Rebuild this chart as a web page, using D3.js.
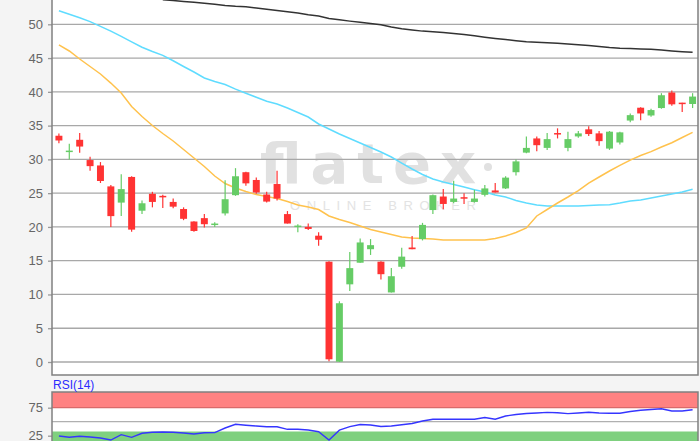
<!DOCTYPE html>
<html>
<head>
<meta charset="utf-8">
<script src="https://cdn.jsdelivr.net/npm/d3@7"></script>
<style>
  body { margin: 0; background: #f4f4f4; }
  svg { display: block; font-family: "Liberation Sans", Arial, sans-serif; }
  .axis text { fill: #666; font-size: 13px; }
  .axis line { stroke: #999; }
  .axis path { display: none; }
</style>
</head>
<body>
<script>
// candle data (one per trading day)
var days = d3.range(1, 63);
var opens  = [33.5, 31.1, 32.9, 29.9, 29.1, 26.0, 23.6, 27.4, 22.4, 24.9, 24.6, 23.7, 22.65, 20.8, 21.3, 20.35,
              22.0, 24.7, 28.1, 26.95, 24.8, 26.35, 21.9, 20.1, 20.0, 18.7, 14.85, 0.05, 11.5, 14.7, 16.7,
              14.85, 10.3, 14.1, 16.95, 18.2, 22.5, 24.5, 23.7, 24.4, 23.7, 24.75, 25.4, 25.7, 28.1, 31.0,
              33.1, 31.7, 33.9, 31.7, 33.4, 34.45, 33.85, 31.6, 32.5, 35.75, 37.65, 36.5, 37.6, 39.9, 38.4, 38.2];
var highs  = [33.85, 32.3, 33.9, 30.4, 29.6, 26.2, 27.8, 27.5, 23.9, 25.2, 24.75, 24.2, 22.9, 20.85, 21.9, 20.7,
              26.9, 28.7, 28.15, 27.3, 25.2, 28.3, 22.35, 20.4, 20.5, 19.2, 14.9, 9.0, 16.3, 18.3, 18.2,
              14.9, 13.9, 16.9, 18.65, 20.6, 24.8, 25.6, 26.85, 25.0, 25.5, 26.2, 26.5, 27.5, 30.0, 33.4,
              33.4, 33.9, 34.6, 34.1, 34.2, 34.9, 34.2, 34.2, 34.1, 36.8, 37.7, 37.5, 39.8, 40.2, 38.4, 39.8];
var lows   = [32.4, 30.0, 31.0, 28.3, 26.5, 20.0, 21.6, 19.3, 21.9, 22.9, 22.8, 22.75, 21.0, 19.3, 19.9, 20.0,
              21.7, 24.6, 26.1, 24.9, 23.6, 23.9, 20.5, 19.2, 19.55, 17.2, 0.1, 0.0, 10.5, 14.7, 15.85,
              12.2, 10.3, 13.8, 16.7, 18.0, 21.9, 22.6, 23.5, 23.4, 23.6, 24.5, 25.1, 25.6, 27.6, 30.9,
              31.2, 31.4, 33.1, 31.2, 33.2, 33.45, 32.0, 31.4, 32.2, 35.5, 35.8, 36.3, 37.5, 37.95, 37.0, 37.6];
var closes = [32.8, 31.3, 31.9, 29.0, 26.8, 21.6, 25.6, 19.6, 23.5, 23.7, 24.4, 23.0, 21.2, 19.4, 20.4, 20.5,
              24.1, 27.5, 26.45, 25.1, 23.75, 24.2, 20.5, 20.2, 19.7, 18.1, 0.4, 8.7, 13.9, 17.7, 17.3,
              13.0, 12.7, 15.6, 16.7, 20.3, 24.7, 23.4, 24.2, 24.3, 24.2, 25.7, 25.1, 27.3, 29.7, 31.7,
              32.1, 33.0, 33.8, 33.0, 33.85, 33.75, 32.7, 34.1, 34.0, 36.55, 36.8, 37.3, 39.5, 38.15, 38.2, 39.3];

// moving averages (null = not drawn)
var maLong = [null, null, null, null, null, null, null, null, null, null,
              53.65, 53.52, 53.39, 53.26, 53.13, 52.96, 52.8, 52.68, 52.61, 52.42, 52.24, 52.06, 51.87, 51.68,
              51.42, 51.23, 50.86, 50.67, 50.47, 50.3, 50.12, 49.94, 49.6, 49.33, 49.16, 48.99, 48.9, 48.77,
              48.62, 48.49, 48.3, 48.09, 47.91, 47.75, 47.57, 47.42, 47.35, 47.28, 47.2, 47.07, 46.97, 46.86,
              46.71, 46.56, 46.45, 46.4, 46.36, 46.3, 46.18, 46.05, 45.95, 45.86];
var maMid  = [52.0, 51.5, 50.96, 50.4, 49.7, 49.0, 48.2, 47.4, 46.6, 45.97, 45.4, 44.6, 43.75, 42.94, 42.05,
              41.53, 41.09, 40.4, 39.8, 39.2, 38.6, 38.2, 37.6, 36.94, 36.27, 35.24, 34.5, 33.76, 33.09, 32.43,
              31.76, 31.1, 30.35, 29.46, 28.58, 27.76, 27.1, 26.65, 26.28, 25.9, 25.5, 25.17, 24.73, 24.43,
              23.9, 23.54, 23.25, 23.1, 23.1, 23.1, 23.1, 23.17, 23.25, 23.3, 23.54, 23.84, 24.0, 24.28,
              24.58, 24.87, 25.17, 25.57];
var maShort = [46.94, 46.05, 44.86, 43.75, 42.64, 41.3, 39.83, 37.83, 36.35, 35.02, 33.83, 32.72, 31.46, 30.2,
               28.95, 27.54, 26.43, 25.76, 25.24, 24.8, 24.5, 24.2, 23.76, 23.25, 22.95, 22.58, 21.62, 21.1,
               20.65, 20.14, 19.62, 19.25, 18.88, 18.5, 18.36, 18.3, 18.2, 18.06, 18.06, 18.06, 18.06, 18.06,
               18.29, 18.66, 19.17, 19.84, 21.62, 22.58, 23.54, 24.43, 25.39, 26.5, 27.39, 28.28, 29.1, 29.9,
               30.57, 31.14, 31.83, 32.47, 33.24, 34.0];

// RSI(14)
var rsi = [24.5, 22.3, 23.9, 22.7, 20.9, 17.3, 26.8, 22.1, 29.3, 31.25, 31.6, 31.1, 29.8, 28.0, 30.2, 30.4,
           38.75, 45.4, 43.75, 42.3, 41.1, 40.9, 36.4, 36.4, 35.2, 32.1, 17.3, 34.8, 41.1, 45.0, 44.1,
           41.4, 42.3, 44.5, 46.8, 51.25, 54.3, 54.3, 54.3, 54.3, 54.3, 57.5, 54.5, 60.2, 62.9, 64.6,
           65.5, 66.6, 65.9, 64.5, 65.5, 66.8, 65.5, 65.0, 65.0, 68.2, 70.5, 71.8, 73.2, 69.1, 69.1, 71.4];

var priceTicks = [0, 5, 10, 15, 20, 25, 30, 35, 40, 45, 50];
var rsiTicks = [25, 75];

var W = 700, H = 441;
var left = 52, right = 698;
var mainTop = -10, mainBottom = 375;
var rsiTop = 392, rsiBottom = 470;

var svg = d3.select("body").append("svg")
    .attr("width", W)
    .attr("height", H);

svg.append("rect").attr("width", W).attr("height", H).attr("fill", "#f4f4f4");

// scales
var x = d3.scaleBand().domain(days).range([left, right + 1.5]).padding(0.33);
var y = d3.scaleLinear().domain([0, 50]).range([362, 24.3]);
var yr = d3.scaleLinear().domain([0, 100]).range([449.7, 393.7]);

function cx(d) { return x(d) + x.bandwidth() / 2; }

// ---------- main panel ----------
svg.append("rect")
    .attr("x", left).attr("y", mainTop)
    .attr("width", right - left).attr("height", mainBottom - mainTop)
    .attr("fill", "#fff");

svg.append("clipPath").attr("id", "clipMain")
  .append("rect")
    .attr("x", left).attr("y", mainTop)
    .attr("width", right - left).attr("height", mainBottom - mainTop);

// watermark
var wm = svg.append("g").attr("clip-path", "url(#clipMain)");
wm.append("text")
    .attr("x", 260).attr("y", 183)
    .attr("textLength", 216).attr("lengthAdjust", "spacing")
    .style("font-family", "'DejaVu Sans', sans-serif")
    .style("font-size", "56px")
    .style("font-weight", "bold")
    .attr("fill", "#e1e1e1")
    .text("flatex");
wm.append("circle").attr("cx", 488).attr("cy", 167).attr("r", 4).attr("fill", "#e1e1e1");
wm.append("text")
    .attr("x", 290).attr("y", 210)
    .attr("textLength", 186).attr("lengthAdjust", "spacing")
    .style("font-size", "13px")
    .attr("fill", "#e3e3e3")
    .text("ONLINE BROKER");

// grid
svg.append("g").selectAll("line")
    .data(priceTicks)
    .enter().append("line")
    .attr("x1", left).attr("x2", right)
    .attr("y1", function(d) { return y(d); })
    .attr("y2", function(d) { return y(d); })
    .attr("stroke", "#a8a8a8")
    .attr("stroke-width", 1.3);

// y axis
svg.append("g")
    .attr("class", "axis")
    .attr("transform", "translate(" + left + ",0)")
    .call(d3.axisLeft(y).tickValues(priceTicks).tickSize(4).tickPadding(5))
    .selectAll("line").attr("stroke", "#a8a8a8").attr("stroke-width", 1.3);

var plot = svg.append("g").attr("clip-path", "url(#clipMain)");

// moving averages
function maLine(vals) {
    return d3.line()
        .defined(function(d) { return vals[d - 1] != null; })
        .x(function(d) { return cx(d); })
        .y(function(d) { return y(vals[d - 1]); });
}
var maSeries = [
    { vals: maLong, color: "#333333" },
    { vals: maMid, color: "#5fdcff" },
    { vals: maShort, color: "#ffc24d" }
];
maSeries.forEach(function(s) {
    plot.append("path")
        .attr("d", maLine(s.vals)(days))
        .attr("fill", "none")
        .attr("stroke", s.color)
        .attr("stroke-width", 1.5);
});

// candles
var red = "#ff3333", green = "#66cc66";
var candle = plot.selectAll(".candle")
    .data(days)
    .enter().append("g")
    .attr("class", "candle");

candle.append("line")
    .attr("x1", cx).attr("x2", cx)
    .attr("y1", function(d) { return y(highs[d - 1]); })
    .attr("y2", function(d) { return y(lows[d - 1]); })
    .attr("stroke", function(d) { return closes[d - 1] >= opens[d - 1] ? green : red; })
    .attr("stroke-width", 1.2);

candle.append("rect")
    .attr("x", function(d) { return x(d); })
    .attr("width", x.bandwidth())
    .attr("y", function(d) { return y(Math.max(opens[d - 1], closes[d - 1])); })
    .attr("height", function(d) {
        return Math.max(1.5, Math.abs(y(opens[d - 1]) - y(closes[d - 1])));
    })
    .attr("fill", function(d) { return closes[d - 1] >= opens[d - 1] ? green : red; });

// frame
svg.append("path")
    .attr("d", "M" + left + "," + mainTop + "V" + mainBottom + "H" + right + "V" + mainTop)
    .attr("fill", "none")
    .attr("stroke", "#808080")
    .attr("stroke-width", 1.5);

// ---------- RSI panel ----------
svg.append("rect")
    .attr("x", left).attr("y", rsiTop)
    .attr("width", right - left).attr("height", rsiBottom - rsiTop)
    .attr("fill", "#fff");

svg.append("clipPath").attr("id", "clipRsi")
  .append("rect")
    .attr("x", left).attr("y", rsiTop)
    .attr("width", right - left).attr("height", rsiBottom - rsiTop);

var rp = svg.append("g").attr("clip-path", "url(#clipRsi)");

// overbought / oversold zones
rp.append("rect")
    .attr("x", left).attr("width", right - left)
    .attr("y", rsiTop).attr("height", yr(75) - rsiTop)
    .attr("fill", "#ff8282");
rp.append("line")
    .attr("x1", left).attr("x2", right)
    .attr("y1", yr(75)).attr("y2", yr(75))
    .attr("stroke", "#d96a6a").attr("stroke-width", 1.2);
rp.append("rect")
    .attr("x", left).attr("width", right - left)
    .attr("y", yr(32.5)).attr("height", rsiBottom - yr(32.5))
    .attr("fill", "#7fd07f");
rp.append("line")
    .attr("x1", left).attr("x2", right)
    .attr("y1", yr(50)).attr("y2", yr(50))
    .attr("stroke", "#b0b0b0").attr("stroke-width", 1.2);

rp.append("path")
    .attr("d", d3.line()
        .x(function(d) { return cx(d); })
        .y(function(d) { return yr(rsi[d - 1]); })(days))
    .attr("fill", "none")
    .attr("stroke", "#3535ff")
    .attr("stroke-width", 1.4);

svg.append("g")
    .attr("class", "axis")
    .attr("transform", "translate(" + left + ",0)")
    .call(d3.axisLeft(yr).tickValues(rsiTicks).tickSize(4).tickPadding(5))
    .selectAll("line").attr("stroke", "#a8a8a8").attr("stroke-width", 1.3);

svg.append("path")
    .attr("d", "M" + left + "," + rsiBottom + "V" + rsiTop + "H" + right + "V" + rsiBottom)
    .attr("fill", "none")
    .attr("stroke", "#808080")
    .attr("stroke-width", 1.5);

svg.append("text")
    .attr("x", 53).attr("y", 389)
    .style("font-size", "12px")
    .attr("fill", "#2b2bff")
    .text("RSI(14)");
</script>
</body>
</html>
